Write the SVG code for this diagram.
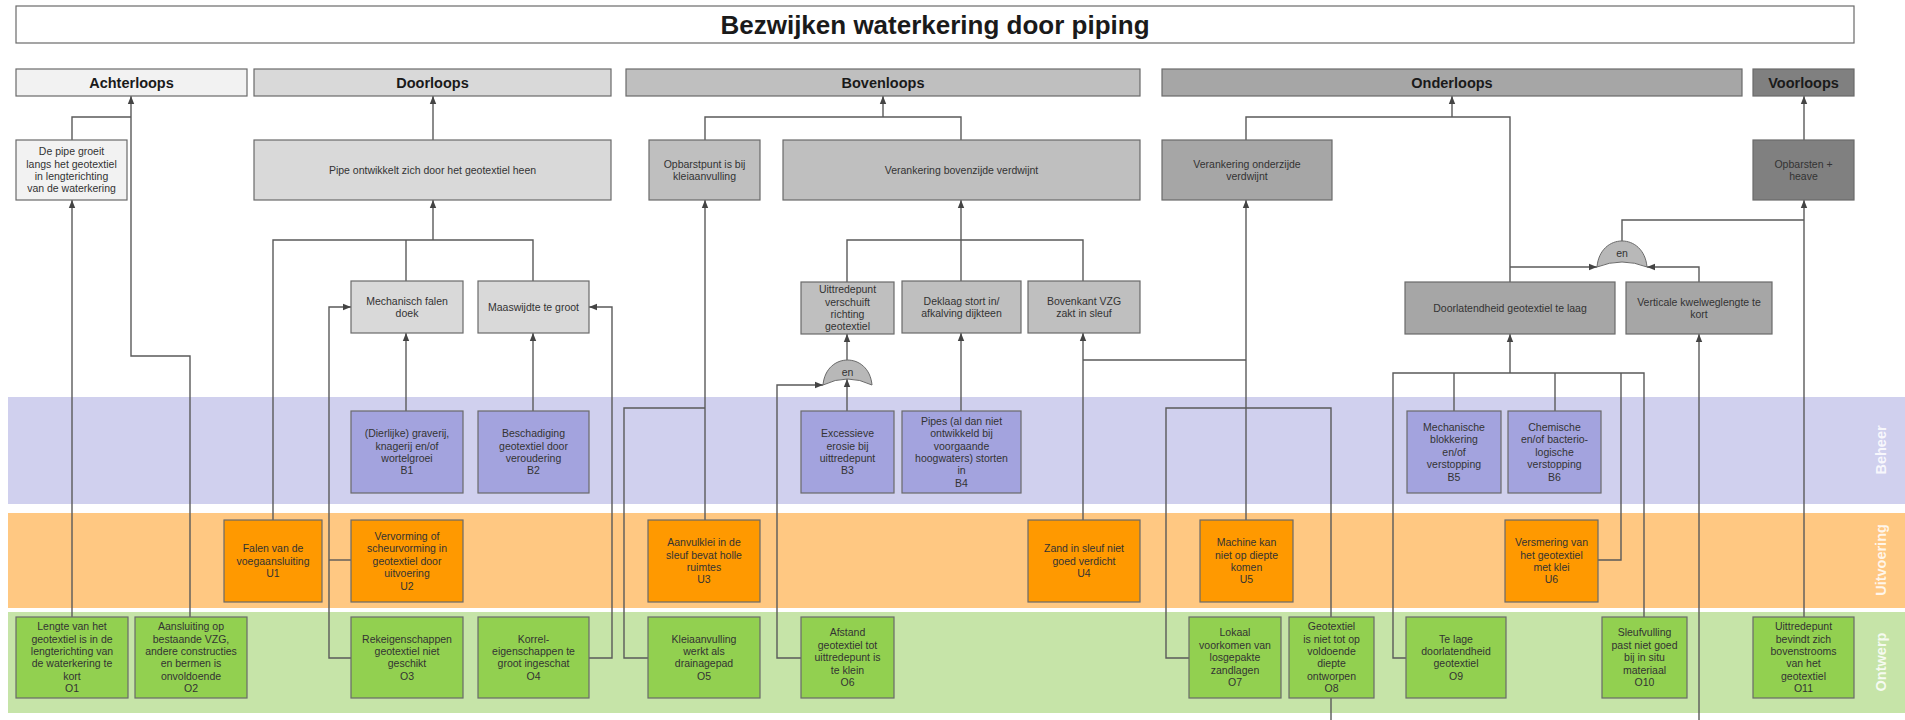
<svg xmlns="http://www.w3.org/2000/svg" width="1905" height="720" viewBox="0 0 1905 720">
<style>
.band{stroke:none}
.n rect{stroke:#6a6a6a;stroke-width:1.2}
.t{font-family:"Liberation Sans",Arial,sans-serif;font-size:10.5px;fill:#333;text-anchor:middle}
.h{font-family:"Liberation Sans",Arial,sans-serif;font-size:14.5px;font-weight:bold;fill:#1a1a1a;text-anchor:middle}
.ttl{font-family:"Liberation Sans",Arial,sans-serif;font-size:26px;font-weight:bold;fill:#1a1a1a;text-anchor:middle}
.lbl{font-family:"Liberation Sans",Arial,sans-serif;font-size:14.5px;font-weight:bold;fill:#ffffff;fill-opacity:0.85;text-anchor:middle;dominant-baseline:central}
.c path{fill:none;stroke:#5a5a5a;stroke-width:1.4}
.gate{fill:#b8b8b8;stroke:#6a6a6a;stroke-width:1}
.g0{fill:#ffffff}.g1{fill:#f2f2f2}.g2{fill:#d9d9d9}.g3{fill:#bfbfbf}.g4{fill:#a6a6a6}.g5{fill:#808080}
.b{fill:#a3a3de}.u{fill:#ff9900}.o{fill:#92d050}
</style>
<defs>
<marker id="arr" viewBox="0 0 10 10" refX="10" refY="5" markerWidth="8" markerHeight="8" markerUnits="userSpaceOnUse" orient="auto">
<path d="M0,1 L10,5 L0,9 z" fill="#444"/>
</marker>
</defs>
<rect width="1905" height="720" fill="#ffffff"/>
<g id="bands">
<rect class="band" x="8" y="397" width="1897" height="107" fill="#d0d0ee"/>
<rect class="band" x="8" y="513" width="1897" height="95" fill="#ffc882"/>
<rect class="band" x="8" y="612" width="1897" height="101" fill="#c6e4a8"/>
<text class="lbl" transform="translate(1881,450) rotate(-90)">Beheer</text>
<text class="lbl" transform="translate(1881,560) rotate(-90)">Uitvoering</text>
<text class="lbl" transform="translate(1881,662) rotate(-90)">Ontwerp</text>
</g>
<g id="connectors" class="c">
<path d="M72,617 V200" marker-end="url(#arr)"/>
<path d="M72,140 V117 H131"/>
<path d="M190,617 V356 H131 V96" marker-end="url(#arr)"/>
<path d="M273,520 V240 H533 V281"/>
<path d="M406,281 V240"/>
<path d="M433,240 V200" marker-end="url(#arr)"/>
<path d="M433,140 V96" marker-end="url(#arr)"/>
<path d="M406,411 V333" marker-end="url(#arr)"/>
<path d="M533,411 V333" marker-end="url(#arr)"/>
<path d="M351,658 H329 V307 H351" marker-end="url(#arr)"/>
<path d="M329,560 H351"/>
<path d="M589,658 H612 V307 H589" marker-end="url(#arr)"/>
<path d="M705,520 V200" marker-end="url(#arr)"/>
<path d="M705,140 V117 H961 V140"/>
<path d="M883,117 V96" marker-end="url(#arr)"/>
<path d="M648,658 H624 V408 H705"/>
<path d="M961,240 V200" marker-end="url(#arr)"/>
<path d="M847,282 V240 H1083 V281"/>
<path d="M961,281 V240"/>
<path d="M961,411 V333" marker-end="url(#arr)"/>
<path d="M847,360 V334" marker-end="url(#arr)"/>
<path d="M847,411 V379" marker-end="url(#arr)"/>
<path d="M801,658 H777 V385 H823" marker-end="url(#arr)"/>
<path d="M1083,520 V333" marker-end="url(#arr)"/>
<path d="M1083,360 H1246"/>
<path d="M1246,520 V200" marker-end="url(#arr)"/>
<path d="M1246,140 V117 H1510 V282"/>
<path d="M1452,117 V96" marker-end="url(#arr)"/>
<path d="M1189,658 H1166 V408 H1331 V617"/>
<path d="M1331,698 V720"/>
<path d="M1510,267 H1597" marker-end="url(#arr)"/>
<path d="M1699,282 V267 H1647" marker-end="url(#arr)"/>
<path d="M1699,720 V334" marker-end="url(#arr)"/>
<path d="M1622,241 V220 H1804"/>
<path d="M1804,617 V200" marker-end="url(#arr)"/>
<path d="M1804,140 V96" marker-end="url(#arr)"/>
<path d="M1510,373 V334" marker-end="url(#arr)"/>
<path d="M1406,658 H1393 V373 H1644 V617"/>
<path d="M1454,411 V373"/>
<path d="M1555,411 V373"/>
<path d="M1598,560 H1621 V373"/>
</g>
<g id="gate-en-1"><path class="gate" d="M823,385 C826,351.7 869,351.7 872,385 Q847.5,373 823,385 Z"/><text class="t" x="847.5" y="376" font-size="11">en</text></g>
<g id="gate-en-2"><path class="gate" d="M1597,267 C1600,232.3 1644,232.3 1647,267 Q1622,257 1597,267 Z"/><text class="t" x="1622" y="257" font-size="11">en</text></g>

<g id="title" class="n"><rect class="g0" x="16" y="6" width="1838" height="37"/><text class="ttl" x="935" y="33.5">Bezwijken waterkering door piping</text></g>
<g id="achterloops" class="n"><rect class="g1" x="16" y="69" width="231" height="27"/><text class="h" x="131.5" y="87.5">Achterloops</text></g>
<g id="doorloops" class="n"><rect class="g2" x="254" y="69" width="357" height="27"/><text class="h" x="432.5" y="87.5">Doorloops</text></g>
<g id="bovenloops" class="n"><rect class="g3" x="626" y="69" width="514" height="27"/><text class="h" x="883" y="87.5">Bovenloops</text></g>
<g id="onderloops" class="n"><rect class="g4" x="1162" y="69" width="580" height="27"/><text class="h" x="1452" y="87.5">Onderloops</text></g>
<g id="voorloops" class="n"><rect class="g5" x="1753" y="69" width="101" height="27"/><text class="h" x="1803.5" y="87.5">Voorloops</text></g>

<g id="depipe" class="n"><rect class="g1" x="16" y="140" width="111" height="60"/><text class="t" x="71.5" y="155.1"><tspan x="71.5">De pipe groeit</tspan><tspan x="71.5" dy="12.4">langs het geotextiel</tspan><tspan x="71.5" dy="12.4">in lengterichting</tspan><tspan x="71.5" dy="12.4">van de waterkering</tspan></text></g>
<g id="pipeontw" class="n"><rect class="g2" x="254" y="140" width="357" height="60"/><text class="t" x="432.5" y="173.7">Pipe ontwikkelt zich door het geotextiel heen</text></g>
<g id="opbarstpunt" class="n"><rect class="g3" x="649" y="140" width="111" height="60"/><text class="t" x="704.5" y="167.5"><tspan x="704.5">Opbarstpunt is bij</tspan><tspan x="704.5" dy="12.4">kleiaanvulling</tspan></text></g>
<g id="verboven" class="n"><rect class="g3" x="783" y="140" width="357" height="60"/><text class="t" x="961.5" y="173.7">Verankering bovenzijde verdwijnt</text></g>
<g id="veronder" class="n"><rect class="g4" x="1162" y="140" width="170" height="60"/><text class="t" x="1247" y="167.5"><tspan x="1247">Verankering onderzijde</tspan><tspan x="1247" dy="12.4">verdwijnt</tspan></text></g>
<g id="opbarsten" class="n"><rect class="g5" x="1753" y="140" width="101" height="60"/><text class="t" x="1803.5" y="167.5"><tspan x="1803.5">Opbarsten +</tspan><tspan x="1803.5" dy="12.4">heave</tspan></text></g>

<g id="mechanisch" class="n"><rect class="g2" x="351" y="281" width="112" height="52"/><text class="t" x="407" y="304.5"><tspan x="407">Mechanisch falen</tspan><tspan x="407" dy="12.4">doek</tspan></text></g>
<g id="maaswijdte" class="n"><rect class="g2" x="478" y="281" width="111" height="52"/><text class="t" x="533.5" y="310.7">Maaswijdte te groot</text></g>
<g id="uittredeverschuift" class="n"><rect class="g3" x="801" y="282" width="93" height="52"/><text class="t" x="847.5" y="293.1"><tspan x="847.5">Uittredepunt</tspan><tspan x="847.5" dy="12.4">verschuift</tspan><tspan x="847.5" dy="12.4">richting</tspan><tspan x="847.5" dy="12.4">geotextiel</tspan></text></g>
<g id="deklaag" class="n"><rect class="g3" x="902" y="281" width="119" height="52"/><text class="t" x="961.5" y="304.5"><tspan x="961.5">Deklaag stort in/</tspan><tspan x="961.5" dy="12.4">afkalving dijkteen</tspan></text></g>
<g id="bovenkant" class="n"><rect class="g3" x="1028" y="281" width="112" height="52"/><text class="t" x="1084" y="304.5"><tspan x="1084">Bovenkant VZG</tspan><tspan x="1084" dy="12.4">zakt in sleuf</tspan></text></g>
<g id="doorlatendheid" class="n"><rect class="g4" x="1405" y="282" width="210" height="52"/><text class="t" x="1510" y="311.7">Doorlatendheid geotextiel te laag</text></g>
<g id="verticale" class="n"><rect class="g4" x="1626" y="282" width="146" height="52"/><text class="t" x="1699" y="305.5"><tspan x="1699">Verticale kwelweglengte te</tspan><tspan x="1699" dy="12.4">kort</tspan></text></g>

<g id="B1" class="n"><rect class="b" x="351" y="411" width="112" height="82"/><text class="t" x="407" y="437.1"><tspan x="407">(Dierlijke) graverij,</tspan><tspan x="407" dy="12.4">knagerij en/of</tspan><tspan x="407" dy="12.4">wortelgroei</tspan><tspan x="407" dy="12.4">B1</tspan></text></g>
<g id="B2" class="n"><rect class="b" x="478" y="411" width="111" height="82"/><text class="t" x="533.5" y="437.1"><tspan x="533.5">Beschadiging</tspan><tspan x="533.5" dy="12.4">geotextiel door</tspan><tspan x="533.5" dy="12.4">veroudering</tspan><tspan x="533.5" dy="12.4">B2</tspan></text></g>
<g id="B3" class="n"><rect class="b" x="801" y="411" width="93" height="82"/><text class="t" x="847.5" y="437.1"><tspan x="847.5">Excessieve</tspan><tspan x="847.5" dy="12.4">erosie bij</tspan><tspan x="847.5" dy="12.4">uittredepunt</tspan><tspan x="847.5" dy="12.4">B3</tspan></text></g>
<g id="B4" class="n"><rect class="b" x="902" y="411" width="119" height="82"/><text class="t" x="961.5" y="424.7"><tspan x="961.5">Pipes (al dan niet</tspan><tspan x="961.5" dy="12.4">ontwikkeld bij</tspan><tspan x="961.5" dy="12.4">voorgaande</tspan><tspan x="961.5" dy="12.4">hoogwaters) storten</tspan><tspan x="961.5" dy="12.4">in</tspan><tspan x="961.5" dy="12.4">B4</tspan></text></g>
<g id="B5" class="n"><rect class="b" x="1407" y="411" width="94" height="82"/><text class="t" x="1454" y="430.9"><tspan x="1454">Mechanische</tspan><tspan x="1454" dy="12.4">blokkering</tspan><tspan x="1454" dy="12.4">en/of</tspan><tspan x="1454" dy="12.4">verstopping</tspan><tspan x="1454" dy="12.4">B5</tspan></text></g>
<g id="B6" class="n"><rect class="b" x="1508" y="411" width="93" height="82"/><text class="t" x="1554.5" y="430.9"><tspan x="1554.5">Chemische</tspan><tspan x="1554.5" dy="12.4">en/of bacterio-</tspan><tspan x="1554.5" dy="12.4">logische</tspan><tspan x="1554.5" dy="12.4">verstopping</tspan><tspan x="1554.5" dy="12.4">B6</tspan></text></g>

<g id="U1" class="n"><rect class="u" x="224" y="520" width="98" height="82"/><text class="t" x="273" y="552.3"><tspan x="273">Falen van de</tspan><tspan x="273" dy="12.4">voegaansluiting</tspan><tspan x="273" dy="12.4">U1</tspan></text></g>
<g id="U2" class="n"><rect class="u" x="351" y="520" width="112" height="82"/><text class="t" x="407" y="539.9"><tspan x="407">Vervorming of</tspan><tspan x="407" dy="12.4">scheurvorming in</tspan><tspan x="407" dy="12.4">geotextiel door</tspan><tspan x="407" dy="12.4">uitvoering</tspan><tspan x="407" dy="12.4">U2</tspan></text></g>
<g id="U3" class="n"><rect class="u" x="648" y="520" width="112" height="82"/><text class="t" x="704" y="546.1"><tspan x="704">Aanvulklei in de</tspan><tspan x="704" dy="12.4">sleuf bevat holle</tspan><tspan x="704" dy="12.4">ruimtes</tspan><tspan x="704" dy="12.4">U3</tspan></text></g>
<g id="U4" class="n"><rect class="u" x="1028" y="520" width="112" height="82"/><text class="t" x="1084" y="552.3"><tspan x="1084">Zand in sleuf niet</tspan><tspan x="1084" dy="12.4">goed verdicht</tspan><tspan x="1084" dy="12.4">U4</tspan></text></g>
<g id="U5" class="n"><rect class="u" x="1200" y="520" width="93" height="82"/><text class="t" x="1246.5" y="546.1"><tspan x="1246.5">Machine kan</tspan><tspan x="1246.5" dy="12.4">niet op diepte</tspan><tspan x="1246.5" dy="12.4">komen</tspan><tspan x="1246.5" dy="12.4">U5</tspan></text></g>
<g id="U6" class="n"><rect class="u" x="1505" y="520" width="93" height="82"/><text class="t" x="1551.5" y="546.1"><tspan x="1551.5">Versmering van</tspan><tspan x="1551.5" dy="12.4">het geotextiel</tspan><tspan x="1551.5" dy="12.4">met klei</tspan><tspan x="1551.5" dy="12.4">U6</tspan></text></g>

<g id="O1" class="n"><rect class="o" x="16" y="617" width="112" height="81"/><text class="t" x="72" y="630.2"><tspan x="72">Lengte van het</tspan><tspan x="72" dy="12.4">geotextiel is in de</tspan><tspan x="72" dy="12.4">lengterichting van</tspan><tspan x="72" dy="12.4">de waterkering te</tspan><tspan x="72" dy="12.4">kort</tspan><tspan x="72" dy="12.4">O1</tspan></text></g>
<g id="O2" class="n"><rect class="o" x="135" y="617" width="112" height="81"/><text class="t" x="191" y="630.2"><tspan x="191">Aansluiting op</tspan><tspan x="191" dy="12.4">bestaande VZG,</tspan><tspan x="191" dy="12.4">andere constructies</tspan><tspan x="191" dy="12.4">en bermen is</tspan><tspan x="191" dy="12.4">onvoldoende</tspan><tspan x="191" dy="12.4">O2</tspan></text></g>
<g id="O3" class="n"><rect class="o" x="351" y="617" width="112" height="81"/><text class="t" x="407" y="642.6"><tspan x="407">Rekeigenschappen</tspan><tspan x="407" dy="12.4">geotextiel niet</tspan><tspan x="407" dy="12.4">geschikt</tspan><tspan x="407" dy="12.4">O3</tspan></text></g>
<g id="O4" class="n"><rect class="o" x="478" y="617" width="111" height="81"/><text class="t" x="533.5" y="642.6"><tspan x="533.5">Korrel-</tspan><tspan x="533.5" dy="12.4">eigenschappen te</tspan><tspan x="533.5" dy="12.4">groot ingeschat</tspan><tspan x="533.5" dy="12.4">O4</tspan></text></g>
<g id="O5" class="n"><rect class="o" x="648" y="617" width="112" height="81"/><text class="t" x="704" y="642.6"><tspan x="704">Kleiaanvulling</tspan><tspan x="704" dy="12.4">werkt als</tspan><tspan x="704" dy="12.4">drainagepad</tspan><tspan x="704" dy="12.4">O5</tspan></text></g>
<g id="O6" class="n"><rect class="o" x="801" y="617" width="93" height="81"/><text class="t" x="847.5" y="636.4"><tspan x="847.5">Afstand</tspan><tspan x="847.5" dy="12.4">geotextiel tot</tspan><tspan x="847.5" dy="12.4">uittredepunt is</tspan><tspan x="847.5" dy="12.4">te klein</tspan><tspan x="847.5" dy="12.4">O6</tspan></text></g>
<g id="O7" class="n"><rect class="o" x="1189" y="617" width="92" height="81"/><text class="t" x="1235" y="636.4"><tspan x="1235">Lokaal</tspan><tspan x="1235" dy="12.4">voorkomen van</tspan><tspan x="1235" dy="12.4">losgepakte</tspan><tspan x="1235" dy="12.4">zandlagen</tspan><tspan x="1235" dy="12.4">O7</tspan></text></g>
<g id="O8" class="n"><rect class="o" x="1289" y="617" width="85" height="81"/><text class="t" x="1331.5" y="630.2"><tspan x="1331.5">Geotextiel</tspan><tspan x="1331.5" dy="12.4">is niet tot op</tspan><tspan x="1331.5" dy="12.4">voldoende</tspan><tspan x="1331.5" dy="12.4">diepte</tspan><tspan x="1331.5" dy="12.4">ontworpen</tspan><tspan x="1331.5" dy="12.4">O8</tspan></text></g>
<g id="O9" class="n"><rect class="o" x="1406" y="617" width="100" height="81"/><text class="t" x="1456" y="642.6"><tspan x="1456">Te lage</tspan><tspan x="1456" dy="12.4">doorlatendheid</tspan><tspan x="1456" dy="12.4">geotextiel</tspan><tspan x="1456" dy="12.4">O9</tspan></text></g>
<g id="O10" class="n"><rect class="o" x="1602" y="617" width="85" height="81"/><text class="t" x="1644.5" y="636.4"><tspan x="1644.5">Sleufvulling</tspan><tspan x="1644.5" dy="12.4">past niet goed</tspan><tspan x="1644.5" dy="12.4">bij in situ</tspan><tspan x="1644.5" dy="12.4">materiaal</tspan><tspan x="1644.5" dy="12.4">O10</tspan></text></g>
<g id="O11" class="n"><rect class="o" x="1753" y="617" width="101" height="81"/><text class="t" x="1803.5" y="630.2"><tspan x="1803.5">Uittredepunt</tspan><tspan x="1803.5" dy="12.4">bevindt zich</tspan><tspan x="1803.5" dy="12.4">bovenstrooms</tspan><tspan x="1803.5" dy="12.4">van het</tspan><tspan x="1803.5" dy="12.4">geotextiel</tspan><tspan x="1803.5" dy="12.4">O11</tspan></text></g>
</svg>
